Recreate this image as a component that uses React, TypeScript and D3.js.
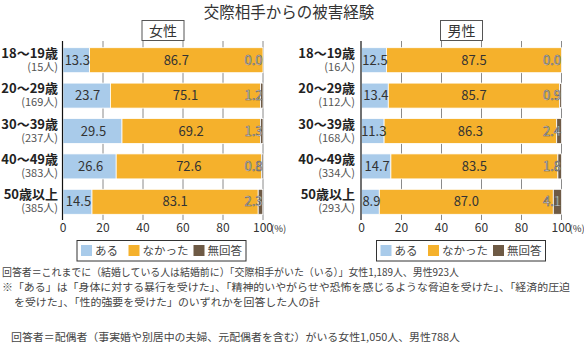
import React from "react";
import * as d3 from "d3";

const categories = ["18〜19歳", "20〜29歳", "30〜39歳", "40〜49歳", "50歳以上"];
const femaleCounts = ["(15人)", "(169人)", "(237人)", "(383人)", "(385人)"];
const maleCounts = ["(16人)", "(112人)", "(168人)", "(334人)", "(293人)"];
const femaleAru = [13.3, 23.7, 29.5, 26.6, 14.5];
const femaleNakatta = [86.7, 75.1, 69.2, 72.6, 83.1];
const femaleMukaito = [0.0, 1.2, 1.3, 0.8, 2.3];
const maleAru = [12.5, 13.4, 11.3, 14.7, 8.9];
const maleNakatta = [87.5, 85.7, 86.3, 83.5, 87.0];
const maleMukaito = [0.0, 0.9, 2.4, 1.8, 4.1];
const xTicks = [0, 20, 40, 60, 80, 100];
const seriesNames = ["ある", "なかった", "無回答"];
const colors = ["#a9cbea", "#f5b12c", "#6e5a45"];
const title = "交際相手からの被害経験";
const notes = [
  "回答者＝これまでに（結婚している人は結婚前に）「交際相手がいた（いる）」女性1,189人、男性923人",
  "※「ある」は「身体に対する暴行を受けた」、「精神的いやがらせや恐怖を感じるような脅迫を受けた」、「経済的圧迫",
  "を受けた」、「性的強要を受けた」のいずれかを回答した人の計",
  "回答者＝配偶者（事実婚や別居中の夫婦、元配偶者を含む）がいる女性1,050人、男性788人",
];

const FONT = "'Noto Sans CJK JP', 'Noto Sans', sans-serif";

type PanelProps = {
  label: string;
  counts: string[];
  a: number[];
  b: number[];
  c: number[];
  x0: number;
  labelRight: number;
  legendX: number;
};

function Panel({ label, counts, a, b, c, x0, labelRight, legendX }: PanelProps) {
  const x = d3.scaleLinear().domain([0, 100]).range([x0, x0 + 200]);
  const y = d3
    .scaleBand<string>()
    .domain(categories)
    .range([42.5, 219.5])
    .paddingInner(0.294)
    .paddingOuter(0.147);
  const bh = y.bandwidth();
  const stacks = categories.map((cat, i) => {
    const vals = [a[i], b[i], c[i]];
    let acc = 0;
    return vals.map((v, k) => {
      const s = acc;
      acc += v;
      return { cat, k, v, s, e: acc };
    });
  });
  const cx = (x0 + x0 + 200) / 2;
  return (
    <g>
      <rect x={cx - 21} y={20.5} width={42} height={20} fill="#fff" stroke="#555" strokeWidth={1} />
      <text x={cx} y={35.5} textAnchor="middle" fontSize={14} fill="#333" fontFamily={FONT}>
        {label}
      </text>
      {xTicks.slice(1).map((t) => (
        <line key={t} x1={x(t)} x2={x(t)} y1={41} y2={220} stroke="#8a8a8a" strokeWidth={1} />
      ))}
      {stacks.map((row) =>
        row.map((d) =>
          d.v > 0 ? (
            <rect
              key={d.cat + d.k}
              x={x(d.s)}
              y={y(d.cat)!}
              width={x(d.e) - x(d.s)}
              height={bh}
              fill={colors[d.k]}
              stroke="#fff"
              strokeWidth={0.8}
            />
          ) : null
        )
      )}
      {stacks.map((row) => {
        const yc = y(row[0].cat)! + bh / 2 + 4.5;
        return (
          <g key={row[0].cat}>
            <text x={(x(row[0].s) + x(row[0].e)) / 2 + 1} y={yc} textAnchor="middle" fontSize={13} fill="#333" fontFamily={FONT}>
              {row[0].v.toFixed(1)}
            </text>
            <text x={(x(row[1].s) + x(row[1].e)) / 2} y={yc} textAnchor="middle" fontSize={13} fill="#333" fontFamily={FONT}>
              {row[1].v.toFixed(1)}
            </text>
            <text
              x={x(100) - 0.5}
              y={yc}
              textAnchor="end"
              fontSize={13}
              fill="#fff"
              stroke="#555"
              strokeWidth={0.6}
              fontFamily={FONT}
            >
              {row[2].v.toFixed(1)}
            </text>
          </g>
        );
      })}
      <line x1={x0 - 0.5} x2={x0 - 0.5} y1={41} y2={220} stroke="#111" strokeWidth={1.2} />
      {xTicks.map((t) => (
        <text key={t} x={x(t)} y={232} textAnchor="middle" fontSize={12} fill="#333" fontFamily={FONT}>
          {t}
        </text>
      ))}
      <text x={x(100) + 8} y={232} fontSize={9.5} fill="#333" fontFamily={FONT}>
        (%)
      </text>
      {categories.map((cat, i) => {
        const yc = y(cat)! + bh / 2;
        return (
          <g key={cat}>
            <text x={labelRight} y={yc - 2.5} textAnchor="end" fontSize={13} fontWeight={600} fill="#222" fontFamily={FONT}>
              {cat}
            </text>
            <text x={labelRight} y={yc + 10.5} textAnchor="end" fontSize={11} fill="#555" fontFamily={FONT}>
              {counts[i]}
            </text>
          </g>
        );
      })}
      <rect x={legendX + 0.5} y={240.5} width={169} height={20.5} fill="#fff" stroke="#333" strokeWidth={1} />
      {seriesNames.map((n, k) => {
        const off = [4.5, 52, 117][k];
        return (
          <g key={n}>
            <rect x={legendX + off} y={245} width={11} height={11} fill={colors[k]} />
            <text x={legendX + off + 14} y={255} fontSize={11.5} fill="#444" fontFamily={FONT}>
              {n}
            </text>
          </g>
        );
      })}
    </g>
  );
}

const noteX = [2, 2, 14, 11];
const noteY = [276, 291, 306, 341];
const noteLen = [457, 568, 306, 449];

export default function App() {
  return (
    <svg width={584} height={355} style={{ position: "absolute", left: 0, top: 0, background: "#fff" }}>
      <rect width={584} height={355} fill="#fff" />
      <text x={289} y={18} textAnchor="middle" fontSize={15.5} fill="#333" fontFamily={FONT}>
        {title}
      </text>
      <Panel label="女性" counts={femaleCounts} a={femaleAru} b={femaleNakatta} c={femaleMukaito} x0={63} labelRight={58} legendX={76.5} />
      <Panel label="男性" counts={maleCounts} a={maleAru} b={maleNakatta} c={maleMukaito} x0={361.5} labelRight={355} legendX={376} />
      {notes.map((n, i) => (
        <text
          key={i}
          x={noteX[i]}
          y={noteY[i]}
          fontSize={10.5}
          fill="#444"
          fontFamily={FONT}
          textLength={noteLen[i]}
          lengthAdjust="spacingAndGlyphs"
        >
          {n}
        </text>
      ))}
    </svg>
  );
}
